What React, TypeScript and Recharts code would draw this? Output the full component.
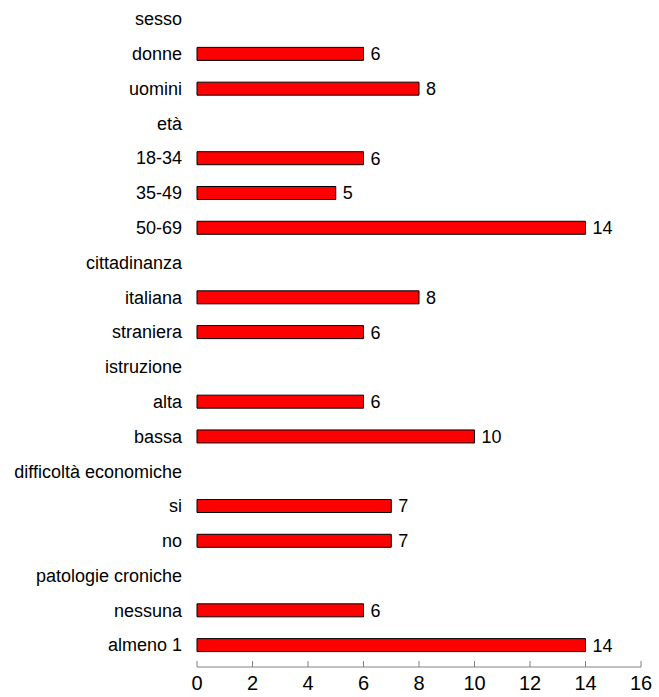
import React from 'react';
import { BarChart, Bar, XAxis, YAxis, LabelList } from 'recharts';

// Rows top to bottom: group headers carry no value
const categories = [
  'sesso', 'donne', 'uomini',
  'età', '18-34', '35-49', '50-69',
  'cittadinanza', 'italiana', 'straniera',
  'istruzione', 'alta', 'bassa',
  'difficoltà economiche', 'si', 'no',
  'patologie croniche', 'nessuna', 'almeno 1',
];
const values: (number | null)[] = [
  null, 6, 8,
  null, 6, 5, 14,
  null, 8, 6,
  null, 6, 10,
  null, 7, 7,
  null, 6, 14,
];
const xTicks = [0, 2, 4, 6, 8, 10, 12, 14, 16];

const data = categories.map((name, i) => ({ name, value: values[i] }));

const FONT = '"Liberation Sans", Arial, sans-serif';

const XTick = (props: any) => {
  const { x, y, payload } = props;
  return (
    <g>
      <line x1={x} x2={x} y1={y - 6} y2={y} stroke="#808080" strokeWidth={1} />
      <text x={x} y={y + 23} textAnchor="middle" fontSize={20} fontFamily={FONT} fill="#000">
        {payload.value}
      </text>
    </g>
  );
};

export default function App() {
  return (
    <div style={{ position: 'absolute', left: 0, top: 0, background: '#fff' }}>
      <BarChart
        width={659}
        height={697}
        data={data}
        layout="vertical"
        margin={{ top: 1.6, right: 18, bottom: 0, left: 0 }}
      >
        <XAxis
          type="number"
          domain={[0, 16]}
          ticks={xTicks}
          interval={0}
          height={30}
          tickSize={0}
          tickMargin={0}
          tickLine={false}
          axisLine={{ stroke: '#808080', strokeWidth: 1 }}
          tick={<XTick />}
        />
        <YAxis
          type="category"
          dataKey="name"
          width={197}
          interval={0}
          axisLine={false}
          tickLine={false}
          tickSize={0}
          tickMargin={15}
          padding={{ top: 0, bottom: 4.6 }}
          tick={{ fontSize: 18, fontFamily: FONT, fill: '#000' }}
        />
        <Bar dataKey="value" fill="#ff0000" stroke="#000" strokeWidth={1} barSize={13} isAnimationActive={false}>
          <LabelList
            dataKey="value"
            position="right"
            offset={7}
            fontSize={18}
            fontFamily={FONT}
            fill="#000"
            formatter={(v: any) => (v == null ? '' : v)}
          />
        </Bar>
      </BarChart>
    </div>
  );
}
